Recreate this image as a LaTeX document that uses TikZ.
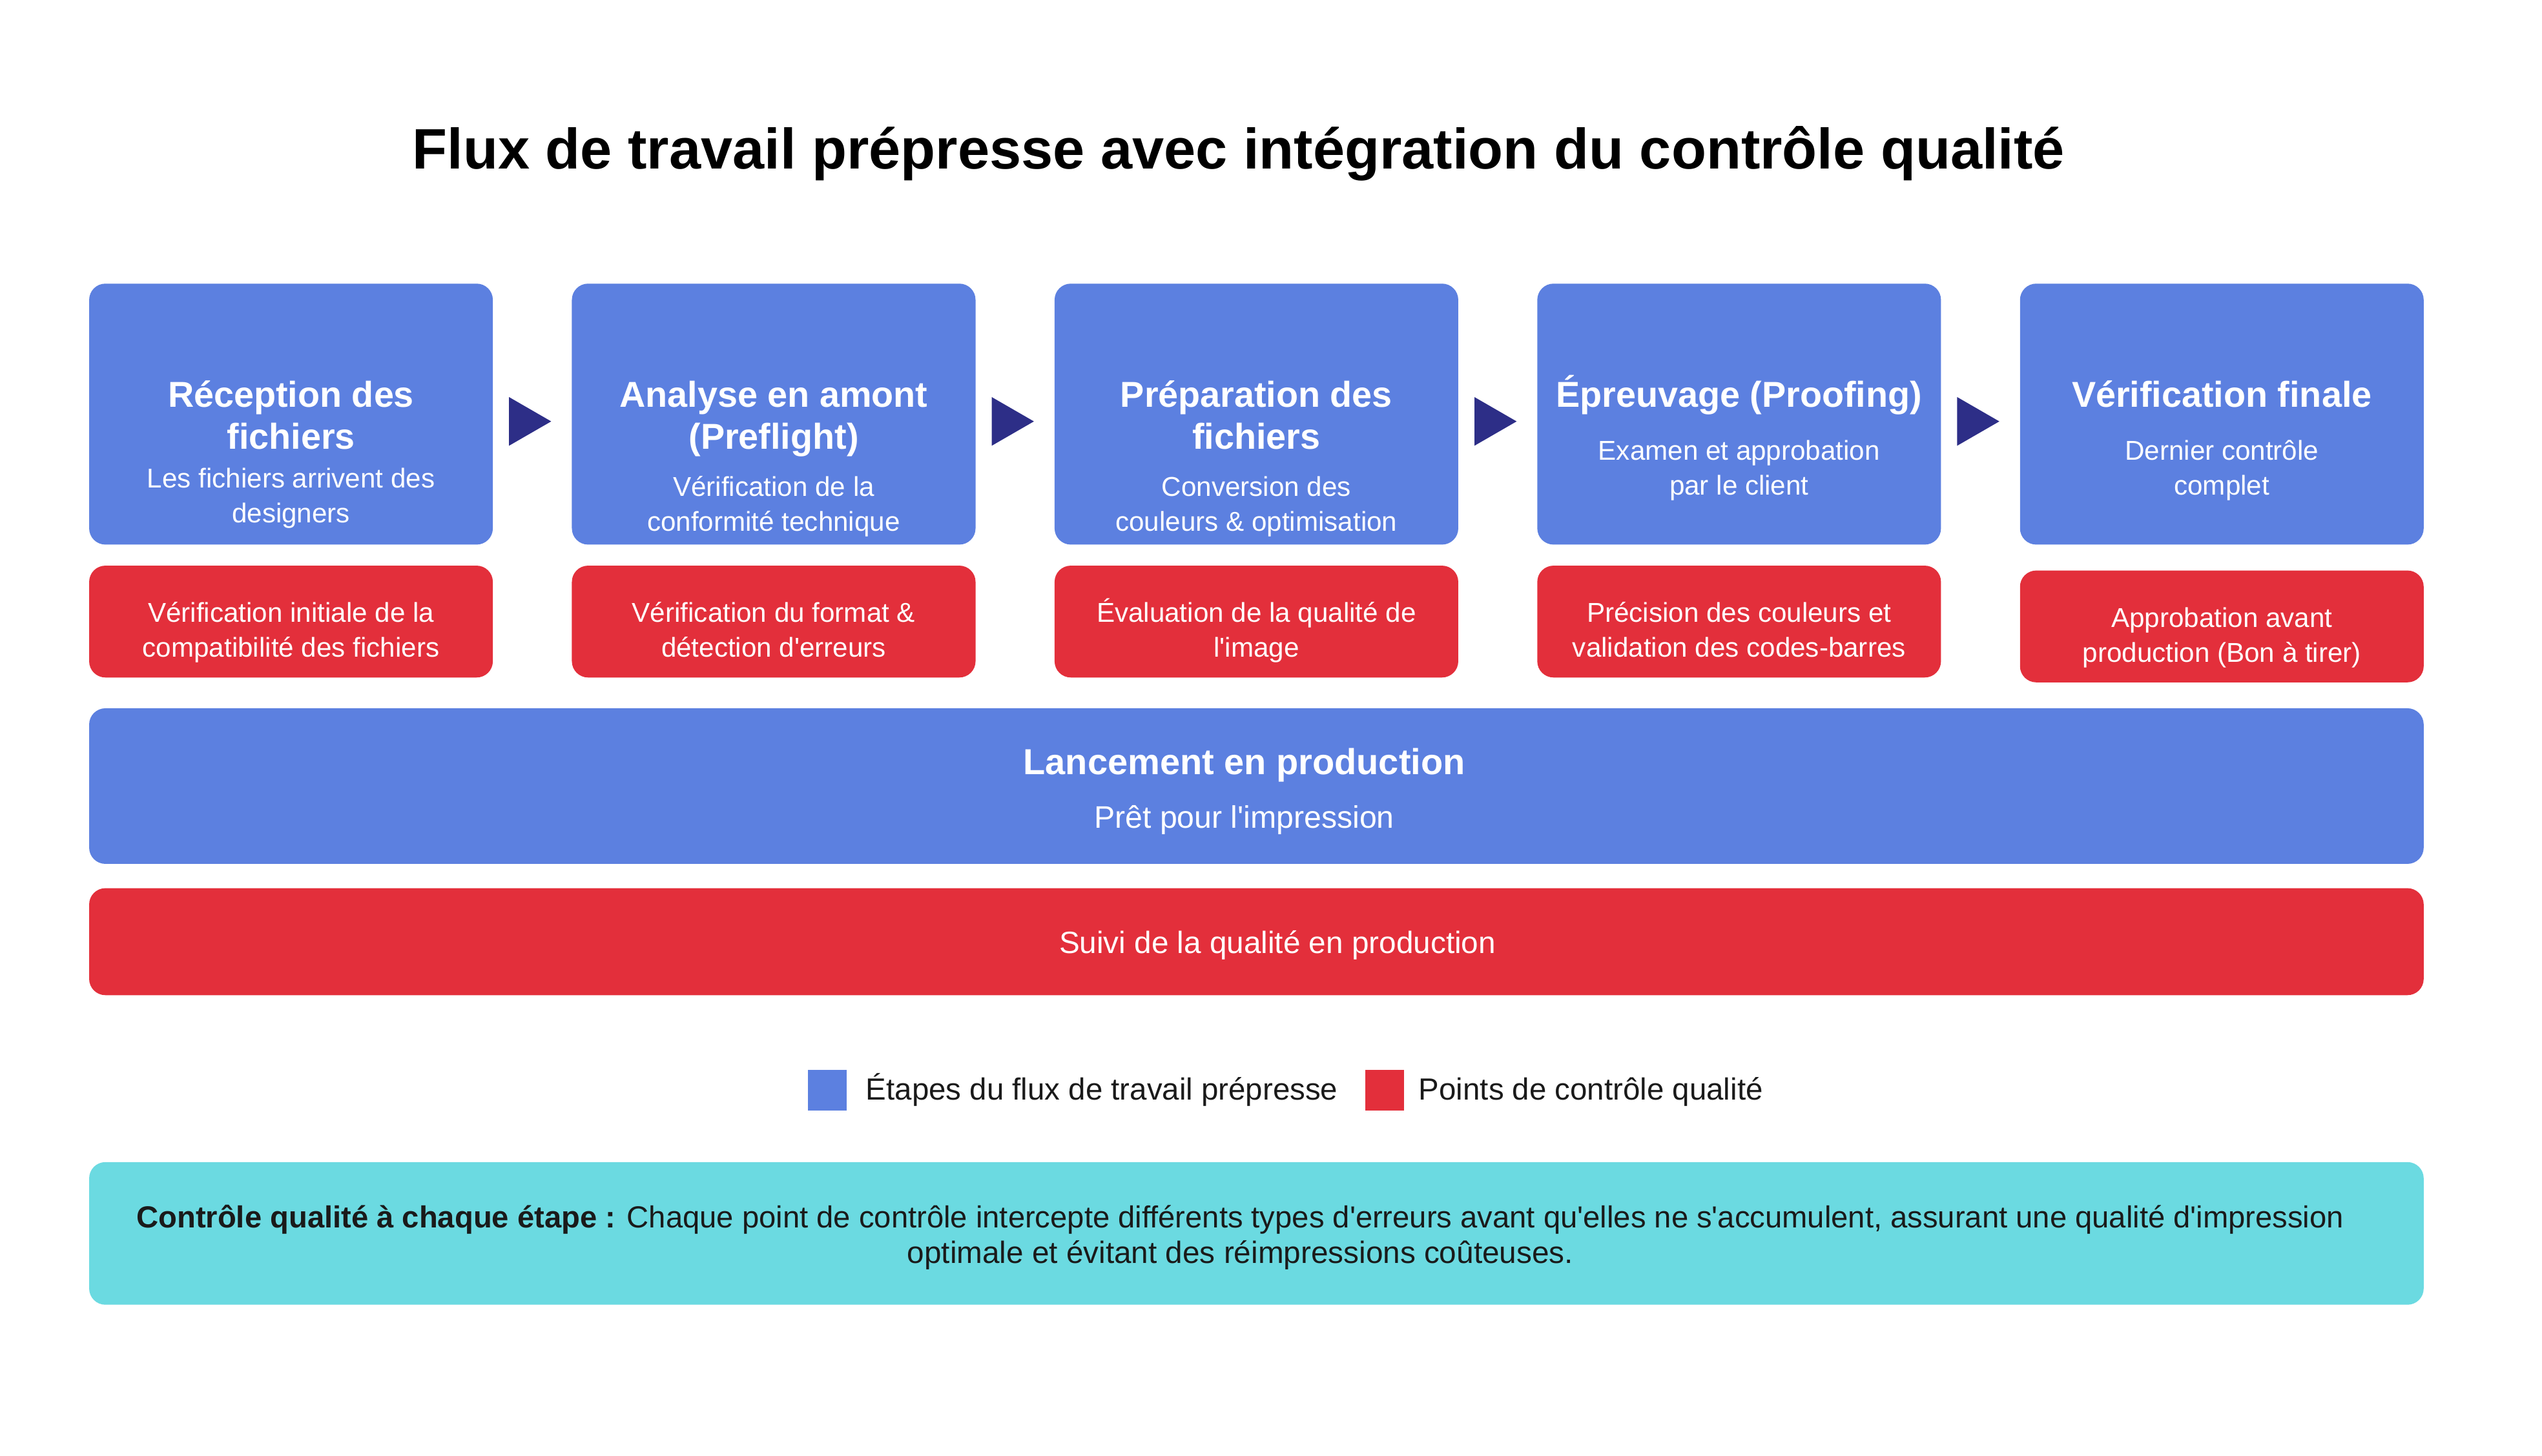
\documentclass[tikz,border=0pt]{standalone}
\usepackage{fontspec}
\setmainfont{Liberation Sans}[Ligatures=TeXOff]
\usetikzlibrary{calc}
\definecolor{stageblue}{RGB}{92,128,224}
\definecolor{qcred}{RGB}{227,47,59}
\definecolor{navyarrow}{RGB}{45,46,135}
\definecolor{notecyan}{RGB}{107,218,225}
\definecolor{darktext}{RGB}{26,26,26}
\begin{document}
\begin{tikzpicture}[x=1pt,y=-1pt,
  stagebox/.style={fill=stageblue, draw=none, rounded corners=10pt, minimum width=249pt, minimum height=161pt, anchor=north west, inner sep=0pt, outer sep=0pt},
  qcbox/.style={fill=qcred, draw=none, rounded corners=10pt, minimum width=249pt, minimum height=69pt, anchor=north west, inner sep=0pt, outer sep=0pt},
  widebox/.style={draw=none, rounded corners=10pt, minimum width=1440pt, anchor=north west, inner sep=0pt, outer sep=0pt},
  lbl/.style={anchor=base, inner sep=0pt, outer sep=0pt, text=white},
  stagettl/.style={lbl, font=\fontsize{22.2}{26}\selectfont\bfseries},
  stagesub/.style={lbl, font=\fontsize{16.8}{21}\selectfont},
  qctxt/.style={lbl, font=\fontsize{16.8}{21}\selectfont},
  legsq/.style={minimum width=24pt, minimum height=25pt, anchor=north west, inner sep=0pt, draw=none},
  legtxt/.style={anchor=base west, inner sep=0pt, text=darktext, font=\fontsize{18.9}{22}\selectfont},
  flowarrow/.style={fill=navyarrow, draw=none}
]
\useasboundingbox (0,0) rectangle (1568,898.3);
\fill[white] (0,0) rectangle (1568,898.3);

% Title
\node[anchor=base, inner sep=0pt, font=\fontsize{35.2}{40}\selectfont\bfseries, text=black] (title) at (764,104) {Flux de travail prépresse avec intégration du contrôle qualité};

% Stage boxes
\node[stagebox] (s1) at (55,175) {};
\node[stagebox] (s2) at (352.75,175) {};
\node[stagebox] (s3) at (650.5,175) {};
\node[stagebox] (s4) at (948.25,175) {};
\node[stagebox] (s5) at (1246,175) {};

% Arrows between stages
\foreach \a in {s1,s2,s3,s4}{
  \fill[flowarrow] ($(\a.north east)+(10,70)$) -- ($(\a.north east)+(36,85)$) -- ($(\a.north east)+(10,100)$) -- cycle;
}

% Stage texts
\node[stagettl] (s1t1) at (179.5,251) {Réception des};
\node[stagettl] (s1t2) at (179.5,277) {fichiers};
\node[stagesub] (s1s1) at (179.5,301) {Les fichiers arrivent des};
\node[stagesub] (s1s2) at (179.5,322.5) {designers};

\node[stagettl] (s2t1) at (477.25,251) {Analyse en amont};
\node[stagettl] (s2t2) at (477.25,277) {(Preflight)};
\node[stagesub] (s2s1) at (477.25,306) {Vérification de la};
\node[stagesub] (s2s2) at (477.25,327.5) {conformité technique};

\node[stagettl] (s3t1) at (775,251) {Préparation des};
\node[stagettl] (s3t2) at (775,277) {fichiers};
\node[stagesub] (s3s1) at (775,306) {Conversion des};
\node[stagesub] (s3s2) at (775,327.5) {couleurs \& optimisation};

\node[stagettl] (s4t1) at (1072.75,251) {Épreuvage (Proofing)};
\node[stagesub] (s4s1) at (1072.75,284) {Examen et approbation};
\node[stagesub] (s4s2) at (1072.75,305.5) {par le client};

\node[stagettl] (s5t1) at (1370.5,251) {Vérification finale};
\node[stagesub] (s5s1) at (1370.5,284) {Dernier contrôle};
\node[stagesub] (s5s2) at (1370.5,305.5) {complet};

% Quality control boxes
\node[qcbox] (q1) at (55,349) {};
\node[qcbox] (q2) at (352.75,349) {};
\node[qcbox] (q3) at (650.5,349) {};
\node[qcbox] (q4) at (948.25,349) {};
\node[qcbox] (q5) at (1246,352) {};

\node[qctxt] (q1a) at (179.5,384) {Vérification initiale de la};
\node[qctxt] (q1b) at (179.5,405.5) {compatibilité des fichiers};
\node[qctxt] (q2a) at (477.25,384) {Vérification du format \&};
\node[qctxt] (q2b) at (477.25,405.5) {détection d'erreurs};
\node[qctxt] (q3a) at (775,384) {Évaluation de la qualité de};
\node[qctxt] (q3b) at (775,405.5) {l'image};
\node[qctxt] (q4a) at (1072.75,384) {Précision des couleurs et};
\node[qctxt] (q4b) at (1072.75,405.5) {validation des codes-barres};
\node[qctxt] (q5a) at (1370.5,387) {Approbation avant};
\node[qctxt] (q5b) at (1370.5,408.5) {production (Bon à tirer)};

% Production launch
\node[widebox, fill=stageblue, minimum height=96pt] (prod) at (55,437) {};
\node[lbl, font=\fontsize{22.3}{26}\selectfont\bfseries] (prodt) at (767.5,478) {Lancement en production};
\node[lbl, font=\fontsize{19.2}{23}\selectfont] (prods) at (767.5,511) {Prêt pour l'impression};

% Production quality tracking
\node[widebox, fill=qcred, minimum height=66pt] (track) at (55,548) {};
\node[lbl, font=\fontsize{19}{23}\selectfont] (trackt) at (788,588) {Suivi de la qualité en production};

% Legend
\node[legsq, fill=stageblue] (legb) at (498,660) {};
\node[legtxt] (legbt) at (534,678.5) {Étapes du flux de travail prépresse};
\node[legsq, fill=qcred] (legr) at (842,660) {};
\node[legtxt] (legrt) at (875,678.5) {Points de contrôle qualité};

% Note
\node[widebox, fill=notecyan, minimum height=88pt] (note) at (55,717) {};
\node[anchor=base, inner sep=0pt, text=darktext, font=\fontsize{18.8}{22}\selectfont] (note1) at (765,757.5) {\textbf{Contrôle qualité à chaque étape :} Chaque point de contrôle intercepte différents types d'erreurs avant qu'elles ne s'accumulent, assurant une qualité d'impression};
\node[anchor=base, inner sep=0pt, text=darktext, font=\fontsize{19}{22}\selectfont] (note2) at (765,779.5) {optimale et évitant des réimpressions coûteuses.};
\end{tikzpicture}
\end{document}
